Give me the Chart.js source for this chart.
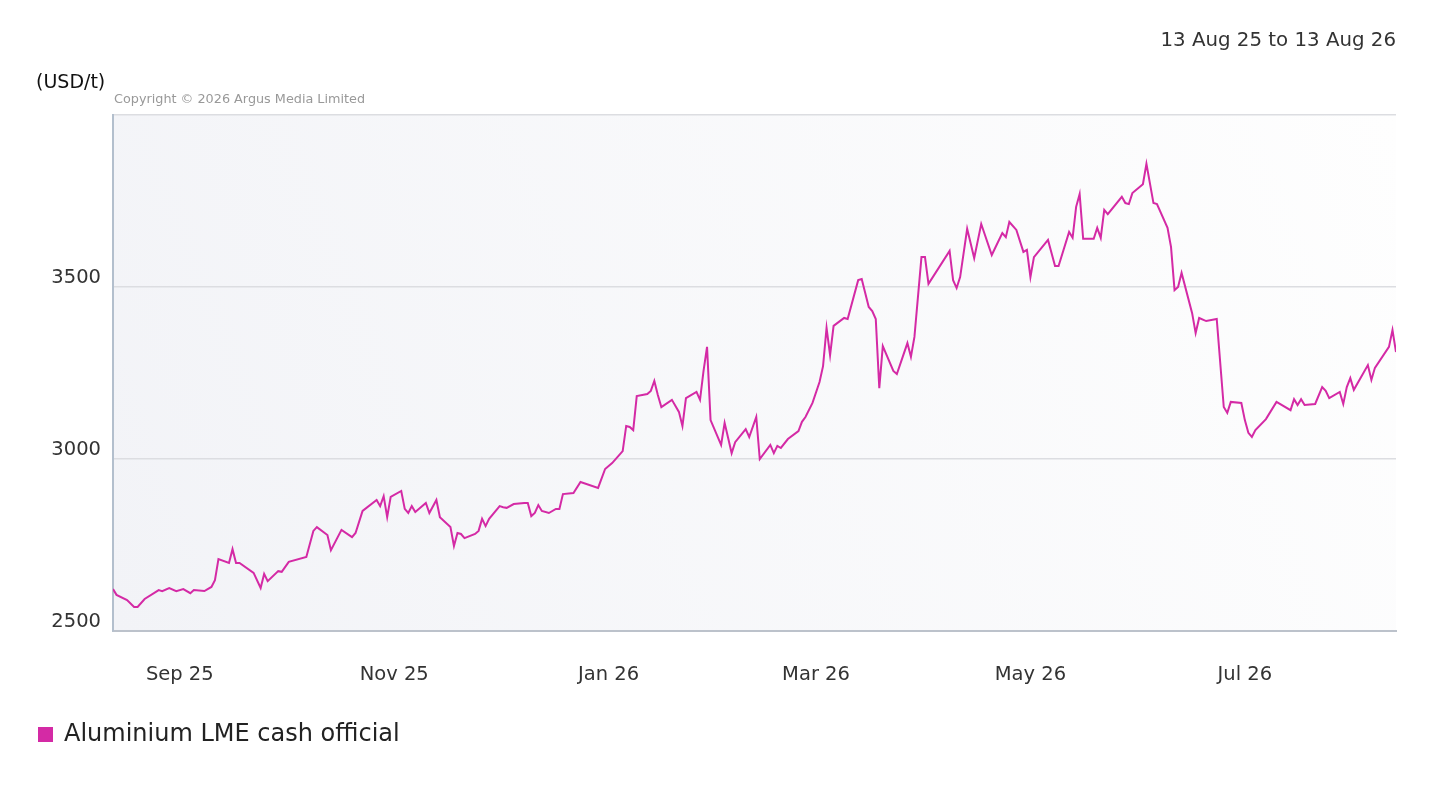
<!DOCTYPE html>
<html>
<head>
<meta charset="utf-8">
<script src="https://cdn.jsdelivr.net/npm/chart.js@4/dist/chart.umd.min.js"></script>
<style>
  body { margin: 0; background: #fff; font-family: "DejaVu Sans", sans-serif; }
  #wrap { position: relative; width: 1438px; height: 790px; }
  .txt { position: absolute; white-space: nowrap; }
  #range { right: 42px; top: 28px; font-size: 19.8px; line-height: 24px; color: #333; }
  #unit { left: 36px; top: 69px; font-size: 19px; line-height: 24px; color: #111; }
  #copy { left: 114px; top: 91px; font-size: 12.8px; line-height: 16px; color: #999; }
  #legend { left: 38px; top: 718px; font-size: 24px; line-height: 30px; color: #222; }
  #legend span { display: inline-block; width: 15px; height: 15px; background: #d42aa5; margin-right: 11px; vertical-align: -1px; }
</style>
</head>
<body>
<div id="wrap">
  <canvas id="priceChart"></canvas>
  <div class="txt" id="range">13 Aug 25 to 13 Aug 26</div>
  <div class="txt" id="unit">(USD/t)</div>
  <div class="txt" id="copy">Copyright © 2026 Argus Media Limited</div>
  <div class="txt" id="legend"><span></span>Aluminium LME cash official</div>
</div>
<script>
// days after 13 Aug 2025, and LME aluminium cash official price (USD/t)
const days = [
  0, 1, 4, 6, 7, 9, 13, 14, 16, 18,
  20, 22, 23, 26, 28, 29, 30, 33, 34, 35,
  36, 40, 42, 43, 44, 47, 48, 50, 55, 57,
  58, 61, 62, 65, 68, 69, 71, 75, 76, 77,
  78, 79, 82, 83, 84, 85, 86, 89, 90, 92,
  93, 96, 97, 98, 99, 100, 103, 104, 105, 106,
  107, 110, 111, 112, 114, 117, 118, 119, 120, 121,
  122, 124, 126, 127, 128, 131, 133, 138, 140, 142,
  145, 146, 147, 148, 149, 152, 153, 154, 155, 156,
  159, 161, 162, 163, 166, 167, 168, 169, 170, 173,
  174, 175, 176, 177, 180, 181, 183, 184, 187, 188,
  189, 190, 192, 195, 196, 197, 199, 201, 202, 203,
  204, 205, 208, 209, 212, 213, 215, 216, 217, 218,
  219, 222, 223, 226, 227, 228, 230, 231, 232, 238,
  239, 240, 241, 243, 245, 247, 250, 253, 254, 255,
  257, 259, 260, 261, 262, 266, 268, 269, 272, 273,
  274, 275, 276, 279, 280, 281, 282, 283, 287, 288,
  289, 290, 293, 294, 296, 297, 300, 301, 302, 303,
  304, 307, 308, 309, 311, 314, 316, 317, 318, 321,
  322, 323, 324, 325, 328, 331, 335, 336, 337, 338,
  339, 342, 344, 345, 346, 349, 350, 351, 352, 353,
  357, 358, 359, 363, 364, 365
];
const prices = [
  2622, 2605, 2590, 2570, 2570, 2593, 2619, 2616, 2625, 2616,
  2622, 2610, 2619, 2616, 2628, 2648, 2709, 2698, 2738, 2698,
  2698, 2669, 2625, 2666, 2645, 2674, 2672, 2701, 2715, 2791,
  2802, 2779, 2735, 2794, 2773, 2785, 2849, 2881, 2863, 2892,
  2831, 2890, 2907, 2855, 2843, 2863, 2846, 2872, 2843, 2881,
  2831, 2802, 2747, 2785, 2782, 2770, 2782, 2791, 2826, 2805,
  2826, 2863, 2860, 2858, 2869, 2872, 2872, 2834, 2843, 2866,
  2849, 2843, 2855, 2855, 2898, 2901, 2933, 2916, 2971, 2988,
  3023, 3096, 3093, 3084, 3183, 3189, 3198, 3227, 3186, 3151,
  3172, 3137, 3096, 3177, 3195, 3172, 3256, 3326, 3113, 3041,
  3105, 3061, 3017, 3049, 3087, 3064, 3122, 3000, 3041, 3017,
  3038, 3032, 3058, 3081, 3108, 3122, 3163, 3224, 3270, 3381,
  3302, 3387, 3410, 3407, 3520, 3523, 3442, 3430, 3407, 3206,
  3328, 3256, 3247, 3337, 3297, 3355, 3587, 3587, 3509, 3605,
  3520, 3497, 3529, 3669, 3584, 3683, 3593, 3657, 3645, 3689,
  3666, 3602, 3608, 3529, 3587, 3637, 3561, 3561, 3660, 3643,
  3733, 3770, 3640, 3640, 3672, 3643, 3724, 3712, 3762, 3744,
  3741, 3773, 3799, 3858, 3744, 3741, 3672, 3616, 3491, 3500,
  3541, 3424, 3366, 3410, 3401, 3407, 3151, 3134, 3166, 3163,
  3113, 3076, 3064, 3084, 3116, 3166, 3142, 3174, 3157, 3174,
  3157, 3160, 3209, 3198, 3177, 3195, 3160, 3209, 3235, 3201,
  3273, 3230, 3265, 3326, 3375, 3311
];

// x axis labels (first of the month)
const startDate = "2025-08-13";
const tickDates = ["2025-09-01", "2025-11-01", "2026-01-01", "2026-03-01", "2026-05-01", "2026-07-01"];
const tickLabels = ["Sep 25", "Nov 25", "Jan 26", "Mar 26", "May 26", "Jul 26"];
const yTicks = [2500, 3000, 3500, 4000];

function dayOffset(dateStr) {
  return Math.round((Date.parse(dateStr) - Date.parse(startDate)) / 86400000);
}
const tickDays = tickDates.map(dayOffset);

// plot area background
const plotBackground = {
  id: "plotBackground",
  beforeDraw(chart) {
    const { ctx, chartArea: a } = chart;
    const g = ctx.createLinearGradient(a.left, a.bottom, a.right, a.top);
    g.addColorStop(0, "#f2f3f7");
    g.addColorStop(1, "#fefefe");
    ctx.save();
    ctx.fillStyle = g;
    ctx.fillRect(a.left, a.top, a.right - a.left, a.bottom - a.top);
    ctx.restore();
  }
};

document.addEventListener("DOMContentLoaded", function () {
  const ctx = document.getElementById("priceChart").getContext("2d");
  new Chart(ctx, {
    type: "line",
    data: {
      datasets: [
        {
          label: "Aluminium LME cash official",
          data: days.map((d, i) => ({ x: d, y: prices[i] })),
          borderColor: "#d42aa5",
          borderWidth: 2,
          pointRadius: 0,
          tension: 0,
          fill: false,
        },
      ],
    },
    options: {
      responsive: true,
      maintainAspectRatio: false,
      animation: false,
      layout: { padding: { left: 0, right: 42, top: 115, bottom: 79 } },
      plugins: {
        legend: { display: false },
        tooltip: { enabled: false },
      },
      scales: {
        x: {
          type: "linear",
          min: 0,
          max: 365,
          afterBuildTicks: (scale) => {
            scale.ticks = tickDays.map((v) => ({ value: v }));
          },
          afterFit: (scale) => {
            scale.height = 80;
          },
          ticks: {
            autoSkip: false,
            maxRotation: 0,
            padding: 32,
            color: "#333",
            font: { family: "DejaVu Sans", size: 19.5 },
            callback: (v) => tickLabels[tickDays.indexOf(v)],
          },
          grid: { display: false, drawTicks: false },
          border: { display: true, color: "#bcc2cb", width: 2 },
        },
        y: {
          min: 2500,
          max: 4000,
          afterBuildTicks: (scale) => {
            scale.ticks = yTicks.map((v) => ({ value: v }));
          },
          afterFit: (scale) => {
            scale.width = 113;
          },
          ticks: {
            padding: 12,
            labelOffset: -9,
            color: "#333",
            font: { family: "DejaVu Sans", size: 19.5 },
            callback: (v) => (v === 4000 ? "" : String(v)),
          },
          grid: {
            drawTicks: false,
            lineWidth: 1.5,
            color: (c) => (c.tick && c.tick.value === 2500 ? "rgba(0,0,0,0)" : "#dcdde1"),
          },
          border: { display: true, color: "#b3bfcd", width: 2 },
        },
      },
    },
    plugins: [plotBackground],
  });
});
</script>
</body>
</html>
